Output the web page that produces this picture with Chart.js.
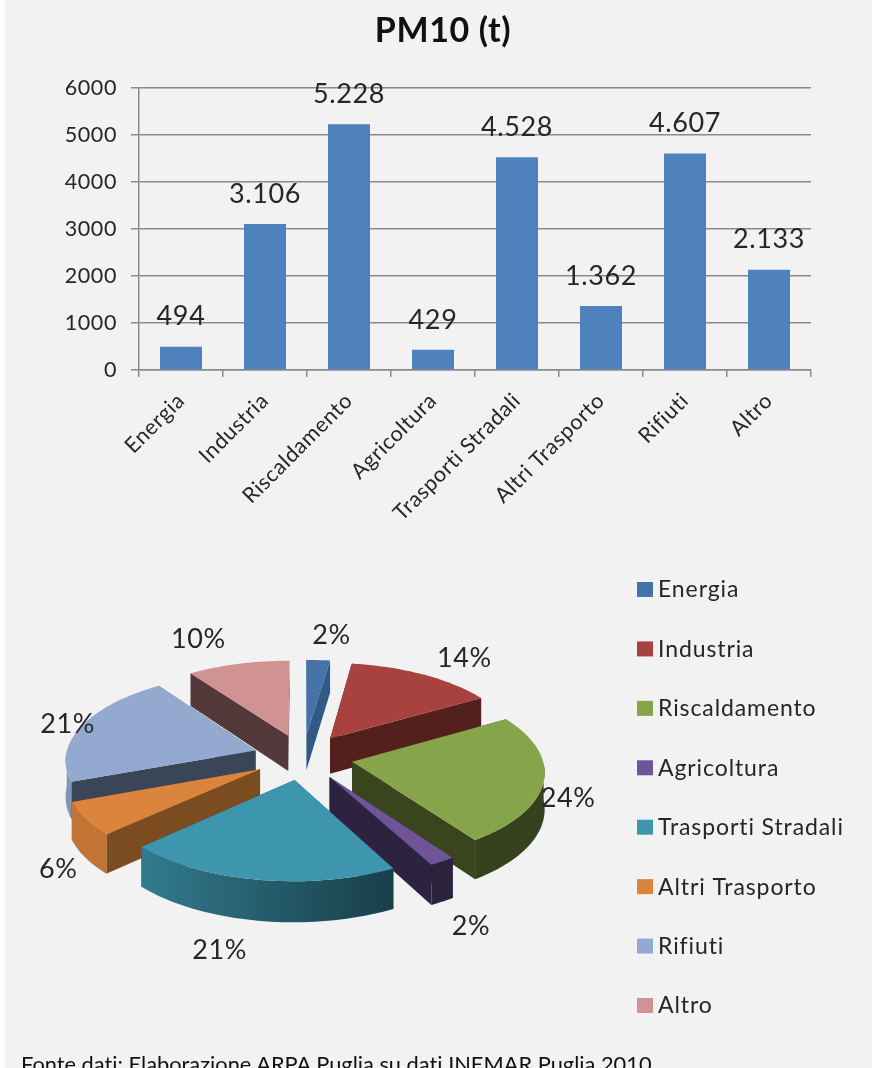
<!DOCTYPE html>
<html lang="it">
<head>
<meta charset="utf-8">
<title>PM10 (t)</title>
<script src="https://cdn.jsdelivr.net/npm/chart.js@4"></script>
<style>
    html, body { margin: 0; padding: 0; width: 872px; height: 1068px; overflow: hidden; background: #fff; }
    #sfondo { position: absolute; left: 5px; top: 0; width: 867px; height: 1068px; background: #f2f2f2; }
    #graficoBarre { position: absolute; left: 14px; top: 0; }
    #graficoTorta { position: absolute; left: 0; top: 560px; }
    #fonte { position: absolute; left: 21px; top: 1050px; font: 21.8px Lato, sans-serif; font-variant-ligatures: none; color: #111; white-space: nowrap; }
</style>
</head>
<body>
<div id="sfondo"></div>
<canvas id="graficoBarre" width="858" height="530"></canvas>
<canvas id="graficoTorta" width="872" height="508"></canvas>
<div id="fonte">Fonte dati: Elaborazione ARPA Puglia su dati INEMAR Puglia 2010</div>
<script>
const categorie = ['Energia', 'Industria', 'Riscaldamento', 'Agricoltura', 'Trasporti Stradali', 'Altri Trasporto', 'Rifiuti', 'Altro'];
const valori = [494, 3106, 5228, 429, 4528, 1362, 4607, 2133];
const coloriFette = ['#4572a7', '#a8423f', '#86a44a', '#6f5597', '#3d96ae', '#db843d', '#93a9cf', '#d19392'];
const coloriPareti = ['#2f5a86', '#54201e', '#3a451d', '#2d2340', '#1f4f5e', '#7c4c21', '#3a4558', '#533939'];

const GRIGLIA = '#8a8a8a';
const TESTO = '#262626';
const FONT = 'Lato, sans-serif';

const formattaValore = (v) => String(v).replace(/\B(?=(\d{3})+$)/g, '.');

// spaziatura del testo su tutto il canvas (toglie anche le legature di Lato)
const spaziatura = {
    id: 'spaziatura',
    beforeUpdate(chart) { chart.ctx.letterSpacing = '0.6px'; },
    beforeDraw(chart) { chart.ctx.letterSpacing = '0.6px'; }
};

// titolo centrato sull'intero canvas, non sull'area al netto dei margini
const titoloCentrato = {
    id: 'titoloCentrato',
    afterLayout(chart) {
        chart.titleBlock.left = 0;
        chart.titleBlock.right = chart.width;
    }
};

// etichette sopra le barre
const etichetteBarre = {
    id: 'etichetteBarre',
    afterDatasetsDraw(chart) {
        const { ctx } = chart;
        ctx.save();
        ctx.font = `27px ${FONT}`;
        ctx.fillStyle = TESTO;
        ctx.textAlign = 'center';
        ctx.textBaseline = 'middle';
        chart.getDatasetMeta(0).data.forEach((barra, i) => {
            ctx.fillText(formattaValore(valori[i]), barra.x, barra.y - 30);
        });
        ctx.restore();
    }
};

new Chart(document.getElementById('graficoBarre'), {
    type: 'bar',
    data: {
        labels: categorie,
        datasets: [{ data: valori, backgroundColor: '#4f81bd', categoryPercentage: 0.5, barPercentage: 1 }]
    },
    options: {
        responsive: false,
        animation: false,
        layout: { padding: { right: 61, left: 0, top: 0, bottom: 0 } },
        plugins: {
            legend: { display: false },
            tooltip: { enabled: false },
            title: {
                display: true,
                text: 'PM10 (t)',
                color: '#111',
                font: { family: FONT, size: 34, weight: 'bold' },
                padding: { top: 10.6, bottom: 36.6 }
            }
        },
        scales: {
            x: {
                afterFit: (s) => { s.height = 160; },
                grid: { drawOnChartArea: false, color: GRIGLIA, tickLength: 7, lineWidth: 1.5 },
                border: { color: GRIGLIA, width: 1.5 },
                ticks: { color: TESTO, font: { family: FONT, size: 21.5 }, minRotation: 45, maxRotation: 45, autoSkip: false, padding: 11 }
            },
            y: {
                min: 0,
                max: 6000,
                afterFit: (s) => { s.width = 125; },
                grid: { color: GRIGLIA, tickLength: 8, lineWidth: 1.5 },
                border: { color: GRIGLIA, width: 1.5 },
                ticks: {
                    stepSize: 1000,
                    color: TESTO,
                    font: { family: FONT, size: 21.5 },
                    padding: 14,
                    callback: (v) => String(v)
                }
            }
        }
    },
    plugins: [spaziatura, titoloCentrato, etichetteBarre]
});

// torta esplosa in prospettiva, costruita sugli archi calcolati da Chart.js
const CENTRO_X = 303;
const CENTRO_Y = 197;
const SCHIACCIAMENTO = 0.455;
const FUGA = 0.000516;
const SPESSORE = 36;

// piccoli aggiustamenti delle percentuali rispetto al bordo della fetta
const spostamentiPct = [[11, -10], [22, -4], [-19, -23], [1, 8], [-29, 10], [14, 3], [23, 3], [-30, -10]];

const proietta = (u, v) => {
    const s = 1 / (1 - FUGA * v);
    return { x: CENTRO_X + u * s, y: CENTRO_Y + SCHIACCIAMENTO * v * s, s };
};

const bordoFetta = (arco) => {
    const medio = (arco.startAngle + arco.endAngle) / 2;
    const ox = Math.cos(medio) * arco.options.offset;
    const oy = Math.sin(medio) * arco.options.offset;
    const punti = [];
    const anteriori = [];
    const passi = Math.max(4, Math.ceil((arco.endAngle - arco.startAngle) / 0.03));
    for (let i = 0; i <= passi; i++) {
        const a = arco.startAngle + (arco.endAngle - arco.startAngle) * i / passi;
        const p = proietta(ox + Math.cos(a) * arco.outerRadius, oy + Math.sin(a) * arco.outerRadius);
        punti.push(p);
        if (Math.sin(a) >= 0) anteriori.push(p);
    }
    return { vertice: proietta(ox, oy), punti, anteriori, medio, ox, oy };
};

const poligono = (ctx, punti, colore) => {
    ctx.beginPath();
    punti.forEach((p, i) => (i ? ctx.lineTo(p.x, p.y) : ctx.moveTo(p.x, p.y)));
    ctx.closePath();
    ctx.fillStyle = colore;
    ctx.fill();
};

const abbassa = (p) => ({ x: p.x, y: p.y + SPESSORE * p.s });

const scurisci = (hex, f) => {
    const n = parseInt(hex.slice(1), 16);
    return `rgb(${(n >> 16) * f}, ${((n >> 8) & 255) * f}, ${(n & 255) * f})`;
};

const torta3d = {
    id: 'torta3d',
    beforeDatasetDraw(chart) {
        const { ctx } = chart;
        const fette = chart.getDatasetMeta(0).data
            .map((arco, i) => ({ i, ...bordoFetta(arco), raggio: arco.outerRadius }))
            .sort((a, b) => a.oy - b.oy);

        fette.forEach(({ i, vertice, punti, anteriori }) => {
            const primo = punti[0];
            const ultimo = punti[punti.length - 1];
            // pareti radiali
            poligono(ctx, [vertice, primo, abbassa(primo), abbassa(vertice)], coloriPareti[i]);
            poligono(ctx, [vertice, ultimo, abbassa(ultimo), abbassa(vertice)], coloriPareti[i]);
            // parete esterna, solo la parte rivolta in avanti, più chiara a sinistra
            if (anteriori.length > 1) {
                const sfumatura = ctx.createLinearGradient(CENTRO_X - 200, 0, CENTRO_X + 100, 0);
                sfumatura.addColorStop(0, scurisci(coloriFette[i], 0.88));
                sfumatura.addColorStop(1, scurisci(coloriFette[i], 0.4));
                poligono(ctx, [...anteriori, ...anteriori.slice().reverse().map(abbassa)], sfumatura);
            }
            // faccia superiore
            poligono(ctx, [vertice, ...punti], coloriFette[i]);
        });

        // percentuali
        const totale = valori.reduce((a, b) => a + b, 0);
        ctx.save();
        ctx.font = `27px ${FONT}`;
        ctx.fillStyle = TESTO;
        ctx.textAlign = 'center';
        ctx.textBaseline = 'middle';
        fette.forEach(({ i, medio, ox, oy, raggio }) => {
            const r = raggio * 1.22;
            const p = proietta(ox + Math.cos(medio) * r, oy + Math.sin(medio) * r);
            const sotto = Math.sin(medio) > 0 ? SPESSORE : 0;
            const [dx, dy] = spostamentiPct[i];
            ctx.fillText(`${Math.round(valori[i] / totale * 100)}%`, p.x + dx, p.y + sotto + dy);
        });
        ctx.restore();
        return false;
    }
};

// legenda verticale a destra della torta
const legendaTorta = {
    id: 'legendaTorta',
    afterDraw(chart) {
        const { ctx } = chart;
        ctx.save();
        ctx.font = `23px ${FONT}`;
        ctx.letterSpacing = '0.9px';
        ctx.textBaseline = 'middle';
        categorie.forEach((nome, i) => {
            const y = 30 + i * 59.43;
            ctx.fillStyle = coloriFette[i];
            ctx.fillRect(637, y - 8, 16, 15);
            ctx.fillStyle = TESTO;
            ctx.fillText(nome, 658, y);
        });
        ctx.restore();
    }
};

new Chart(document.getElementById('graficoTorta'), {
    type: 'pie',
    data: {
        labels: categorie,
        datasets: [{ data: valori, backgroundColor: coloriFette, borderWidth: 0, offset: 50 }]
    },
    options: {
        responsive: false,
        animation: false,
        radius: 190,
        plugins: {
            tooltip: { enabled: false },
            legend: { display: false }
        }
    },
    plugins: [spaziatura, torta3d, legendaTorta]
});
</script>
</body>
</html>
